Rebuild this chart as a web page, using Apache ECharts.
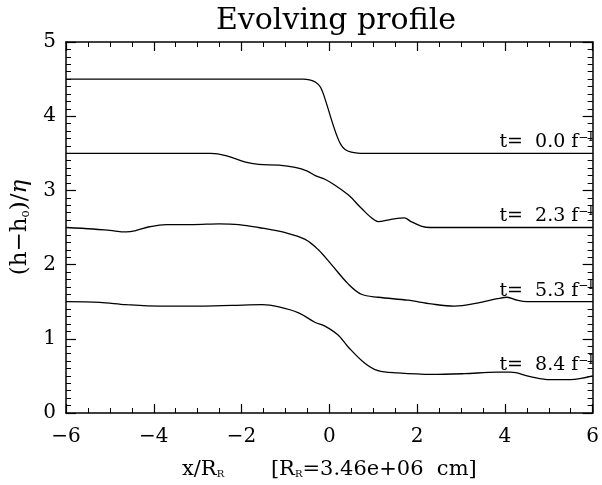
<!DOCTYPE html>
<html>
<head>
<meta charset="utf-8">
<script src="https://cdn.jsdelivr.net/npm/echarts@6/dist/echarts.min.js"></script>
<style>html,body{margin:0;padding:0;background:#fff;}#c{width:602px;height:485px;}</style>
</head>
<body>
<div id="c"></div>
<script>
// ---- data ----
const x0 = [-6, -0.6, -0.45, -0.32, -0.2, -0.08, 0.05, 0.17, 0.26, 0.36, 0.5, 0.7, 6];
const y0 = [4.5, 4.5, 4.49, 4.46, 4.39, 4.2, 3.95, 3.74, 3.62, 3.55, 3.515, 3.5, 3.5];

const x1 = [-6, -2.7, -2.36, -1.91, -1.61, -1.15, -0.78, -0.5, -0.32, -0.1, 0.13, 0.43, 0.73, 0.96, 1.11, 1.41, 1.71, 1.86, 2.09, 2.3, 6];
const y1 = [3.5, 3.5, 3.47, 3.38, 3.35, 3.34, 3.31, 3.26, 3.2, 3.15, 3.07, 2.94, 2.76, 2.63, 2.58, 2.61, 2.63, 2.58, 2.52, 2.5, 2.5];

const x2 = [-6, -5.38, -5.0, -4.63, -4.4, -4.1, -3.72, -3.1, -2.51, -2.06, -1.61, -1.0, -0.55, -0.25, 0.05, 0.43, 0.73, 1.11, 1.79, 2.32, 2.85, 3.37, 3.83, 4.05, 4.28, 4.5, 4.8, 6];
const y2 = [2.5, 2.48, 2.46, 2.44, 2.46, 2.51, 2.54, 2.54, 2.55, 2.54, 2.5, 2.43, 2.34, 2.2, 2.0, 1.74, 1.6, 1.56, 1.52, 1.47, 1.44, 1.48, 1.54, 1.56, 1.52, 1.5, 1.5, 1.5];

const x3 = [-6, -5.23, -4.63, -3.87, -2.97, -2.21, -1.53, -1.15, -0.7, -0.32, -0.1, 0.2, 0.43, 0.81, 1.11, 1.56, 2.32, 3.07, 3.83, 4.13, 4.58, 5.03, 5.49, 6];
const y3 = [1.5, 1.49, 1.46, 1.44, 1.44, 1.45, 1.46, 1.43, 1.35, 1.22, 1.17, 1.05, 0.89, 0.67, 0.57, 0.54, 0.52, 0.53, 0.55, 0.55, 0.49, 0.45, 0.45, 0.5];

const times = ['0.0', '2.3', '5.3', '8.4'];
const annotX = [6, 6, 6, 6];
const annotY = [3.5, 2.5, 1.5, 0.5];

const xTicks = [-6, -4, -2, 0, 2, 4, 6];
const yTicks = [0, 1, 2, 3, 4, 5];

// ---- chart ----
const FONT = 'DejaVu Serif';
const xs = [x0, x1, x2, x3], ys = [y0, y1, y2, y3];
const pair = (a, b) => a.map((v, i) => [v, b[i]]);

function axisCommon(showLabel, interval, minorSplit, majorLen, minorLen) {
  return {
    type: 'value',
    interval: interval,
    axisLine: { show: true, onZero: false, lineStyle: { color: '#000', width: 1.5 } },
    axisTick: { show: true, inside: true, length: majorLen, lineStyle: { color: '#000', width: 1.2 } },
    minorTick: { show: true, splitNumber: minorSplit, length: minorLen, lineStyle: { color: '#000', width: 1 } },
    splitLine: { show: false },
    axisLabel: {
      show: showLabel, color: '#000', fontFamily: FONT, fontSize: 20,
      formatter: v => String(v).replace('-', '\u2212')
    }
  };
}

const series = xs.map((xa, i) => ({
  type: 'line',
  data: pair(xa, ys[i]),
  smooth: 0.35,
  symbol: 'none',
  lineStyle: { color: '#000', width: 1.3 },
  silent: true,
  z: 2,
  markPoint: {
    symbol: 'circle', symbolSize: 1,
    itemStyle: { color: 'rgba(0,0,0,0)' },
    z: 10,
    data: [{ coord: [annotX[i], annotY[i]] }],
    label: {
      show: true, position: [0, 0], align: 'right', verticalAlign: 'bottom',
      offset: [1, 0],
      formatter: 't=  ' + times[i] + ' f{sup|\u2212I}',
      color: '#000', fontFamily: FONT, fontSize: 19,
      rich: { sup: { fontSize: 12, fontFamily: FONT, color: '#000', padding: [0, 0, 9, 0] } }
    }
  }
}));

const chart = echarts.init(document.getElementById('c'), null, { renderer: 'canvas' });
chart.setOption({
  animation: false,
  backgroundColor: '#fff',
  title: {
    text: 'Evolving profile', left: 331, textAlign: 'center', top: 1,
    textStyle: { fontFamily: FONT, fontWeight: 'normal', fontSize: 30, color: '#000' }
  },
  grid: { left: 66, right: 6, top: 42, bottom: 68 },
  xAxis: [
    Object.assign(axisCommon(true, 2, 4, 9, 5), {
      min: xTicks[0], max: xTicks[xTicks.length - 1], position: 'bottom',
      name: 'x/R{s|R}       [R{s|R}=3.46e+06  cm]',
      nameLocation: 'middle', nameGap: 46,
      nameTextStyle: {
        fontFamily: FONT, fontSize: 21, color: '#000',
        rich: { s: { fontFamily: FONT, fontSize: 10, color: '#000', padding: [10, 0, 0, 0] } }
      },
      axisLabel: Object.assign(axisCommon(true, 2, 4, 9, 5).axisLabel, { margin: 14 })
    }),
    Object.assign(axisCommon(false, 2, 4, 9, 5), {
      min: xTicks[0], max: xTicks[xTicks.length - 1], position: 'top'
    })
  ],
  yAxis: [
    Object.assign(axisCommon(true, 1, 10, 10, 5), {
      min: yTicks[0], max: yTicks[yTicks.length - 1], position: 'left',
      name: '(h\u2212h{s|o})/{e|\u03b7}',
      nameLocation: 'middle', nameGap: 34,
      nameTextStyle: {
        fontFamily: FONT, fontSize: 23, color: '#000',
        rich: {
          s: { fontFamily: FONT, fontSize: 12, color: '#000', padding: [11, 0, 0, 0] },
          e: { fontFamily: FONT, fontSize: 23, fontStyle: 'italic', color: '#000' }
        }
      },
      axisLabel: Object.assign(axisCommon(true, 1, 10, 10, 5).axisLabel, { margin: 10 })
    }),
    Object.assign(axisCommon(false, 1, 10, 10, 5), {
      min: yTicks[0], max: yTicks[yTicks.length - 1], position: 'right'
    })
  ],
  series: series
});
</script>
</body>
</html>
